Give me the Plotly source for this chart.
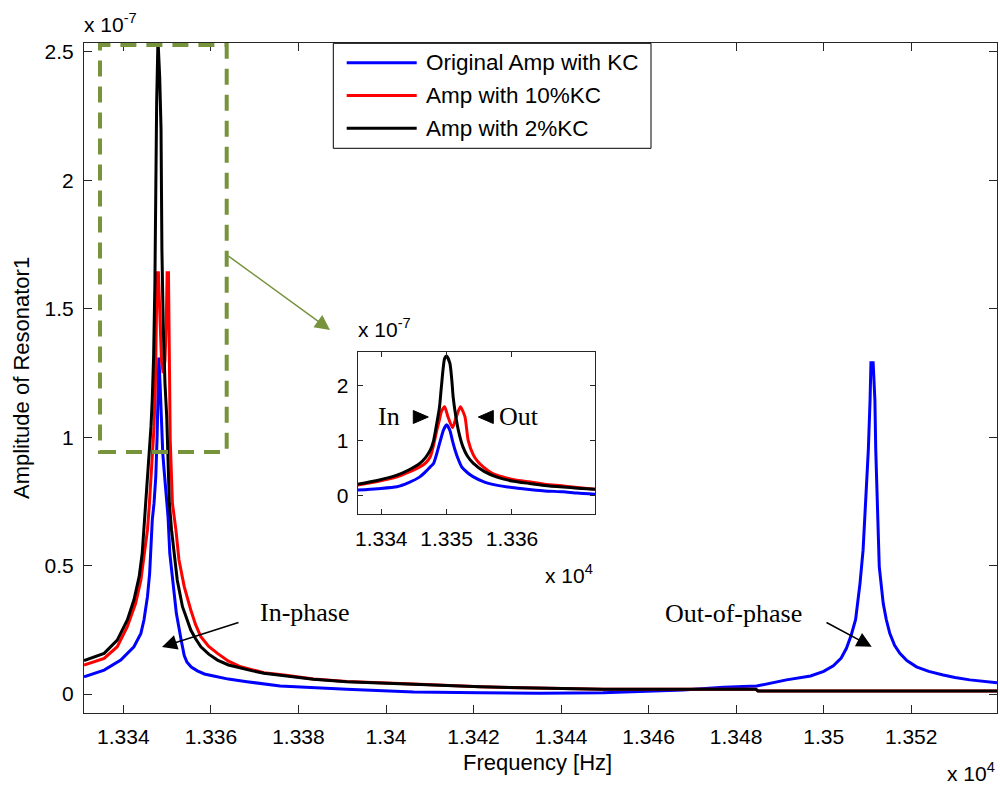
import plotly.graph_objects as go

# ---------------- data (amplitudes in units of 1e-7) ----------------
series_names = ["Original Amp with KC", "Amp with 10%KC", "Amp with 2%KC"]
series_colors = ["#0000FF", "#FF0000", "#000000"]

freq_blue = [13331.0, 13335.6, 13339.4, 13342.4, 13344.0, 13344.7, 13345.5, 13346.0, 13346.3,
             13346.6, 13347.0, 13347.4, 13347.7, 13347.9, 13348.1, 13348.4, 13348.7, 13349.0,
             13349.3, 13350.2, 13350.6, 13351.4, 13352.1, 13353.2, 13353.9, 13354.5, 13355.5,
             13356.9, 13358.5, 13360.6, 13364.0,
             13368.2, 13375.8, 13391.0, 13406.3, 13421.5, 13435.0, 13449.6, 13467.9, 13477.1,
             13484.7, 13491.5, 13497.0, 13500.0, 13502.2, 13504.0, 13505.2, 13506.3, 13507.3,
             13508.3, 13509.0, 13509.6,
             13510.2, 13510.6, 13510.8, 13511.3, 13511.7, 13511.9, 13512.2, 13512.7, 13513.6,
             13514.3, 13515.1, 13516.2, 13517.4, 13519.0, 13521.2, 13524.0, 13527.3, 13530.0,
             13533.4, 13536.5, 13539.6]
amp_blue = [0.067, 0.093, 0.132, 0.184, 0.236, 0.288, 0.379, 0.470, 0.574,
            0.678, 0.743, 0.846, 1.000, 1.200, 1.310, 1.200, 1.050, 0.937,
            0.872, 0.690, 0.548, 0.418, 0.314, 0.210, 0.150, 0.125, 0.105,
            0.090, 0.078, 0.070, 0.058,
            0.048, 0.031, 0.018, 0.008, 0.005, 0.003, 0.005, 0.016, 0.026,
            0.031, 0.055, 0.070, 0.088, 0.110, 0.140, 0.178, 0.230, 0.290,
            0.431, 0.560, 0.755,
            0.950, 1.145, 1.290, 1.290, 1.145, 0.950, 0.743, 0.496, 0.353,
            0.290, 0.236, 0.190, 0.158, 0.130, 0.106, 0.088, 0.074, 0.064,
            0.055, 0.049, 0.044]

freq_red = [13331.0, 13335.6, 13338.6, 13340.9, 13342.8, 13344.0, 13344.7, 13345.5, 13345.9,
            13346.3, 13346.6, 13347.0, 13347.3, 13347.5, 13347.7, 13348.0, 13348.3, 13348.7,
            13349.1, 13349.5, 13349.8, 13350.0, 13350.3, 13350.5, 13350.7, 13351.2, 13352.0,
            13352.7, 13353.9, 13355.4, 13356.5, 13357.7, 13359.5, 13361.5, 13364.0, 13366.8,
            13369.5, 13372.1, 13376.7, 13383.4,
            13391.0, 13398.6, 13406.2, 13421.5, 13435.0, 13449.6, 13484.5, 13485.0, 13539.6]
amp_red = [0.113, 0.139, 0.184, 0.262, 0.353, 0.444, 0.535, 0.639, 0.729,
           0.833, 0.937, 1.040, 1.200, 1.450, 1.640, 1.640, 1.450, 1.300,
           1.250, 1.300, 1.450, 1.640, 1.640, 1.300, 0.990, 0.743, 0.639,
           0.522, 0.418, 0.327, 0.270, 0.223, 0.185, 0.158, 0.128, 0.106,
           0.093, 0.083, 0.074, 0.058,
           0.049, 0.043, 0.039, 0.028, 0.024, 0.018, 0.018, 0.012, 0.012]

freq_black = [13331.0, 13335.6, 13338.6, 13340.9, 13342.4, 13343.6, 13344.3, 13344.7, 13345.1,
              13345.5, 13345.9, 13346.3, 13346.6, 13346.9, 13347.2, 13347.4, 13347.6, 13347.9,
              13348.3, 13348.6, 13348.8, 13349.1, 13349.5, 13349.9, 13350.2, 13350.5, 13351.0,
              13351.6, 13352.3, 13353.5, 13355.4, 13356.5, 13357.7, 13359.5, 13361.5, 13364.0,
              13366.8, 13369.5, 13372.1, 13376.7,
              13383.4, 13391.0, 13398.6, 13406.2, 13421.5, 13435.0, 13449.6, 13484.5, 13485.0,
              13539.6]
amp_black = [0.130, 0.158, 0.210, 0.288, 0.366, 0.457, 0.548, 0.639, 0.729,
             0.833, 0.937, 1.040, 1.150, 1.310, 1.600, 2.000, 2.300, 2.550,
             2.400, 2.200, 1.730, 1.440, 1.210, 1.080, 0.937, 0.743, 0.639,
             0.548, 0.444, 0.340, 0.249, 0.215, 0.184, 0.155, 0.132, 0.113,
             0.100, 0.090, 0.081, 0.072,
             0.057, 0.048, 0.042, 0.038, 0.028, 0.024, 0.018, 0.018, 0.012,
             0.012]

# inset (zoomed view around the in-phase peak)
inset_freq_blue = [13336.4, 13339.4, 13342.4, 13344.2, 13345.9, 13346.8, 13347.5, 13348.0, 13348.5,
                   13348.8, 13349.2, 13349.5, 13350.0, 13350.5, 13350.9, 13351.3, 13351.8, 13352.3,
                   13353.2, 13354.1, 13355.8, 13357.6, 13360.0, 13362.7, 13365.0, 13367.8, 13370.0,
                   13372.7]
inset_amp_blue = [0.104, 0.130, 0.164, 0.240, 0.345, 0.440, 0.527, 0.589, 0.770,
                  0.900, 1.070, 1.190, 1.290, 1.190, 1.000, 0.830, 0.660, 0.527,
                  0.420, 0.345, 0.250, 0.195, 0.150, 0.116, 0.090, 0.073, 0.050,
                  0.031]

inset_freq_red = [13336.4, 13339.4, 13342.4, 13344.2, 13345.9, 13346.8, 13347.5, 13348.0, 13348.5,
                  13348.9, 13349.2, 13349.7, 13350.2, 13350.9, 13351.5, 13352.1, 13352.8, 13353.3,
                  13354.1, 13354.8, 13355.6, 13357.0, 13358.6, 13360.5, 13362.7, 13365.0, 13367.8,
                  13370.0, 13372.7]
inset_amp_red = [0.195, 0.260, 0.345, 0.430, 0.527, 0.600, 0.710, 0.920, 1.190,
                 1.380, 1.530, 1.620, 1.440, 1.240, 1.440, 1.620, 1.440, 1.010,
                 0.740, 0.620, 0.527, 0.410, 0.345, 0.290, 0.255, 0.210, 0.180,
                 0.150, 0.120]

inset_freq_black = [13336.4, 13339.4, 13342.4, 13344.2, 13345.9, 13346.8, 13347.5, 13348.0, 13348.5,
                    13348.9, 13349.2, 13349.7, 13350.0, 13350.5, 13350.8, 13351.0, 13351.4, 13351.8,
                    13352.5, 13353.2, 13354.1, 13355.8, 13357.6, 13360.0, 13362.7, 13365.0, 13367.8,
                    13370.0, 13372.7]
inset_amp_black = [0.213, 0.280, 0.376, 0.470, 0.589, 0.700, 0.830, 1.000, 1.320,
                   1.600, 1.980, 2.500, 2.540, 2.410, 2.100, 1.800, 1.450, 1.190,
                   0.890, 0.720, 0.590, 0.440, 0.345, 0.270, 0.225, 0.190, 0.160,
                   0.140, 0.120]

x_tickvals = [13340, 13360, 13380, 13400, 13420, 13440, 13460, 13480, 13500, 13520]
x_ticktext = ["1.334", "1.336", "1.338", "1.34", "1.342", "1.344", "1.346", "1.348", "1.35", "1.352"]
y_tickvals = [0, 0.5, 1, 1.5, 2, 2.5]
y_ticktext = ["0", "0.5", "1", "1.5", "2", "2.5"]
inset_x_tickvals = [13340, 13350, 13360]
inset_x_ticktext = ["1.334", "1.335", "1.336"]
inset_y_tickvals = [0, 1, 2]
inset_y_ticktext = ["0", "1", "2"]

# ---------------- layout helpers (pixel -> paper) ----------------
W, H = 1000, 787
L, R, T, B = 84, 997, 43, 713


def px(x):
    return (x - L) / (R - L)


def py(y):
    return (B - y) / (B - T)


SANS = "Liberation Sans, Arial, sans-serif"
SERIF = "Liberation Serif, Times New Roman, serif"
AX = "#262626"
GREEN = "#77933C"

fig = go.Figure()
main_sets = [(freq_blue, amp_blue), (freq_red, amp_red), (freq_black, amp_black)]
inset_sets = [(inset_freq_blue, inset_amp_blue), (inset_freq_red, inset_amp_red),
              (inset_freq_black, inset_amp_black)]
for (fx, fy), name, col in zip(main_sets, series_names, series_colors):
    fig.add_trace(go.Scatter(x=fx, y=fy, mode="lines", name=name, showlegend=False,
                             line=dict(color=col, width=3), xaxis="x", yaxis="y"))
for (fx, fy), name, col in zip(inset_sets, series_names, series_colors):
    fig.add_trace(go.Scatter(x=fx, y=fy, mode="lines", name=name, showlegend=False,
                             line=dict(color=col, width=3, shape="spline", smoothing=0.6),
                             xaxis="x2", yaxis="y2"))

axis_common = dict(showline=True, linecolor=AX, linewidth=1, mirror="ticks", ticks="inside",
                   tickcolor=AX, showgrid=False, zeroline=False,
                   tickfont=dict(family=SANS, size=21, color="black"))

ix0, ix1, iy0, iy1 = 357.7, 595, 351.7, 514

fig.update_layout(
    width=W, height=H, margin=dict(l=L, r=W - R, t=T, b=H - B),
    paper_bgcolor="white", plot_bgcolor="white", showlegend=False,
    xaxis=dict(domain=[0, 1], range=[13331.0, 13539.6], tickvals=x_tickvals, ticktext=x_ticktext,
               ticklen=8, ticklabelstandoff=5, anchor="y", **axis_common),
    yaxis=dict(domain=[0, 1], range=[-0.074, 2.535], tickvals=y_tickvals, ticktext=y_ticktext,
               ticklen=8, ticklabelstandoff=5, anchor="x", **axis_common),
    xaxis2=dict(domain=[px(ix0), px(ix1)], range=[13336.4, 13372.7], tickvals=inset_x_tickvals,
                ticktext=inset_x_ticktext, ticklen=5, ticklabelstandoff=6, anchor="y2", **axis_common),
    yaxis2=dict(domain=[py(iy1), py(iy0)], range=[-0.33, 2.62], tickvals=inset_y_tickvals,
                ticktext=inset_y_ticktext, ticklen=5, ticklabelstandoff=4, anchor="x2", **axis_common),
)

shapes = []
# green dashed zoom box
shapes.append(dict(type="rect", xref="paper", yref="paper", x0=px(100), x1=px(226.7),
                   y0=py(452), y1=py(45), line=dict(color=GREEN, width=4, dash="16px,10px")))
# legend box
shapes.append(dict(type="rect", xref="paper", yref="paper", x0=px(333.3), x1=px(651),
                   y0=py(148.3), y1=py(43.3), line=dict(color="black", width=1), fillcolor="white"))
for i, col in enumerate(series_colors):
    yy = 62.7 + i * 32.8
    shapes.append(dict(type="line", xref="paper", yref="paper", x0=px(346.7), x1=px(416.7),
                       y0=py(yy), y1=py(yy), line=dict(color=col, width=3)))


def tri(pts):
    return "M " + " L ".join(f"{px(a):.5f},{py(b):.5f}" for a, b in pts) + " Z"


# inset triangles
shapes.append(dict(type="path", xref="paper", yref="paper",
                   path=tri([(413.3, 410.5), (413.3, 423.5), (428.3, 417)]),
                   fillcolor="black", line=dict(color="black", width=1)))
shapes.append(dict(type="path", xref="paper", yref="paper",
                   path=tri([(493.3, 410.5), (493.3, 423.5), (478.3, 417)]),
                   fillcolor="black", line=dict(color="black", width=1)))
fig.update_layout(shapes=shapes)

ann = []
for i, name in enumerate(series_names):
    yy = 62.7 + i * 32.8
    ann.append(dict(xref="paper", yref="paper", x=px(424), y=py(yy), xanchor="left", yanchor="middle",
                    text=name, showarrow=False, font=dict(family=SANS, size=22.5, color="black")))
# exponent labels
ann.append(dict(xref="paper", yref="paper", x=px(82), y=py(23), xanchor="left", yanchor="middle",
                text="x 10<sup>-7</sup>", showarrow=False, font=dict(family=SANS, size=21, color="black")))
ann.append(dict(xref="paper", yref="paper", x=px(997), y=py(772), xanchor="right", yanchor="middle",
                text="x 10<sup>4</sup>", showarrow=False, font=dict(family=SANS, size=21, color="black")))
ann.append(dict(xref="paper", yref="paper", x=px(356), y=py(328), xanchor="left", yanchor="middle",
                text="x 10<sup>-7</sup>", showarrow=False, font=dict(family=SANS, size=21, color="black")))
ann.append(dict(xref="paper", yref="paper", x=px(595), y=py(574), xanchor="right", yanchor="middle",
                text="x 10<sup>4</sup>", showarrow=False, font=dict(family=SANS, size=21, color="black")))
# axis titles
ann.append(dict(xref="paper", yref="paper", x=px(537), y=py(762), xanchor="center", yanchor="middle",
                text="Frequency [Hz]", showarrow=False, font=dict(family=SANS, size=22, color="black")))
ann.append(dict(xref="paper", yref="paper", x=px(21), y=py(378), xanchor="center", yanchor="middle",
                text="Amplitude of Resonator1", textangle=-90, showarrow=False,
                font=dict(family=SANS, size=22, color="black")))
# phase annotations
ann.append(dict(xref="paper", yref="paper", x=px(305), y=py(612), xanchor="center", yanchor="middle",
                text="In-phase", showarrow=False, font=dict(family=SERIF, size=26, color="black")))
ann.append(dict(xref="paper", yref="paper", x=px(733), y=py(613), xanchor="center", yanchor="middle",
                text="Out-of-phase", showarrow=False, font=dict(family=SERIF, size=26, color="black")))
ann.append(dict(xref="paper", yref="paper", x=px(162), y=py(647), ax=78, ay=-25, text="",
                showarrow=True, arrowhead=2, arrowsize=2, arrowwidth=1.5, arrowcolor="black", standoff=0))
ann.append(dict(xref="paper", yref="paper", x=px(871.7), y=py(646.7), ax=-46.7, ay=-25, text="",
                showarrow=True, arrowhead=2, arrowsize=2, arrowwidth=1.5, arrowcolor="black", standoff=0))
# green pointer arrow
ann.append(dict(xref="paper", yref="paper", x=px(330), y=py(330), ax=-103, ay=-75, text="",
                showarrow=True, arrowhead=2, arrowsize=2, arrowwidth=1.5, arrowcolor=GREEN, standoff=0))
# inset In / Out
ann.append(dict(xref="paper", yref="paper", x=px(389), y=py(416), xanchor="center", yanchor="middle",
                text="In", showarrow=False, font=dict(family=SERIF, size=26, color="black")))
ann.append(dict(xref="paper", yref="paper", x=px(519), y=py(416), xanchor="center", yanchor="middle",
                text="Out", showarrow=False, font=dict(family=SERIF, size=26, color="black")))
fig.update_layout(annotations=ann)

fig.write_html("out.html")
